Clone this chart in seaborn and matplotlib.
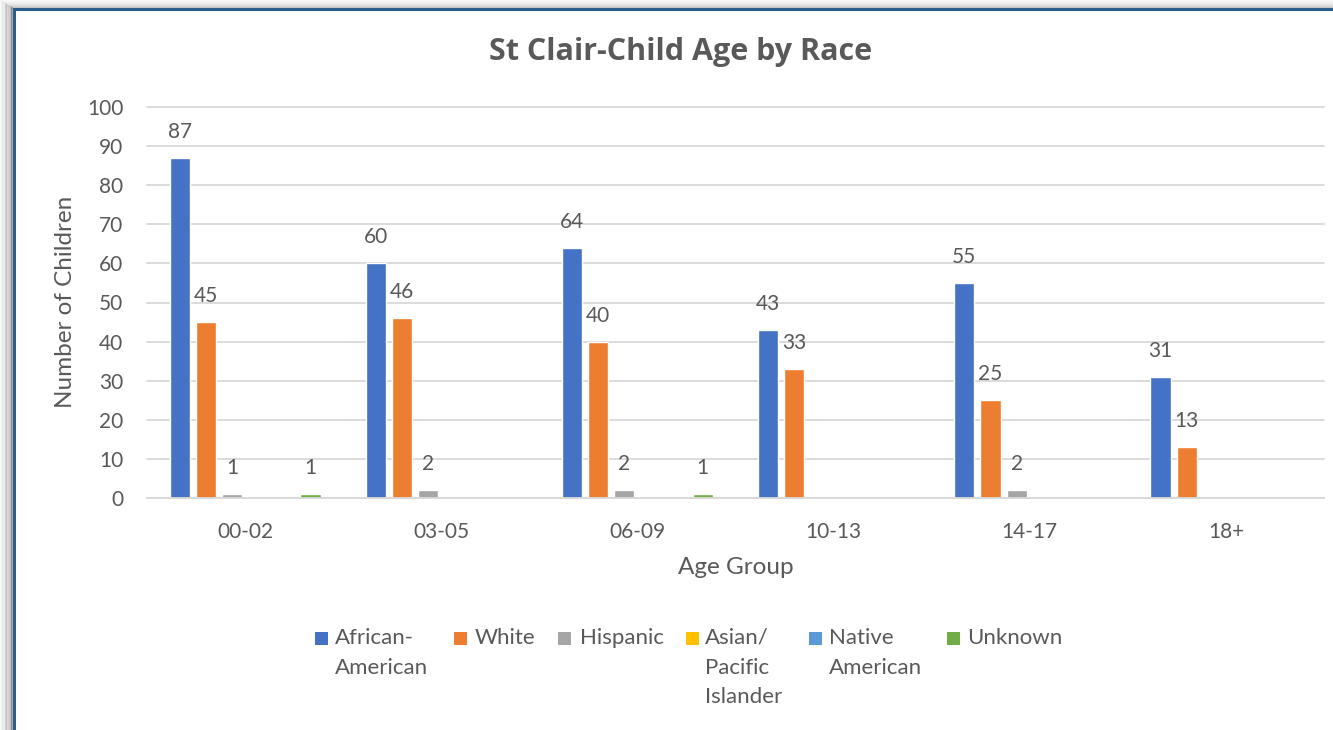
import matplotlib
matplotlib.use("Agg")
import matplotlib.pyplot as plt
import seaborn as sns
import pandas as pd
from matplotlib.patches import Rectangle
from matplotlib.lines import Line2D

age_groups = ["00-02", "03-05", "06-09", "10-13", "14-17", "18+"]
races = ["African-American", "White", "Hispanic", "Asian/Pacific Islander",
         "Native American", "Unknown"]
legend_labels = ["African-\nAmerican", "White", "Hispanic",
                 "Asian/\nPacific\nIslander", "Native\nAmerican", "Unknown"]
african_american = [87, 60, 64, 43, 55, 31]
white = [45, 46, 40, 33, 25, 13]
hispanic = [1, 2, 2, 0, 2, 0]
asian_pacific = [0, 0, 0, 0, 0, 0]
native_american = [0, 0, 0, 0, 0, 0]
unknown = [1, 0, 1, 0, 0, 0]
series = [african_american, white, hispanic, asian_pacific, native_american, unknown]
colors = ["#4472C4", "#ED7D31", "#A5A5A5", "#FFC000", "#5B9BD5", "#70AD47"]

rows = []
for race, vals in zip(races, series):
    for g, v in zip(age_groups, vals):
        rows.append({"Age Group": g, "Race": race, "Count": v})
df = pd.DataFrame(rows)

sns.set_theme(style="white")
plt.rcParams["font.family"] = ["Lato", "DejaVu Sans"]
TXT = "#595959"

W, H = 1333, 730
fig = plt.figure(figsize=(W / 100, H / 100), dpi=100)
fig.patch.set_facecolor("white")

def fx(px):
    return px / W

def fy(py):
    return 1 - py / H

ax = fig.add_axes([fx(147), fy(498), fx(1324) - fx(147), fy(107) - fy(498)])
sns.barplot(data=df, x="Age Group", y="Count", hue="Race", order=age_groups,
            hue_order=races, palette=colors, width=0.8, gap=0.23,
            legend=False, ax=ax, errorbar=None, saturation=1)

ax.set_xlim(-0.5, 5.5)
ax.set_ylim(0, 100)
ax.set_yticks(range(0, 101, 10))
ax.grid(axis="y", color="#D9D9D9", linewidth=1.3)
ax.grid(axis="x", visible=False)
ax.set_axisbelow(True)
for s in ["top", "right", "left"]:
    ax.spines[s].set_visible(False)
ax.spines["bottom"].set_color("#D9D9D9")
ax.spines["bottom"].set_linewidth(1.3)
for gl in ax.get_ygridlines():
    gl.set_clip_on(False)
ax.tick_params(axis="both", length=0, labelsize=15, labelcolor=TXT)
ax.tick_params(axis="y", pad=17)
ax.tick_params(axis="x", pad=17)

for container, vals in zip(ax.containers, series):
    labels = [str(v) if v != 0 else "" for v in vals]
    for bar, lab in zip(container, labels):
        if lab:
            ax.annotate(lab, (bar.get_x() + bar.get_width() / 2, bar.get_height()),
                        xytext=(0, 26), textcoords="offset pixels",
                        ha="center", va="center", fontsize=15, color=TXT)

ax.set_xlabel("Age Group", fontsize=17.5, color=TXT)
ax.xaxis.label.set_va("center")
ax.xaxis.set_label_coords(0.5, (498 - 568) / 391)
ax.set_ylabel("")
fig.text(fx(65), fy(302), "Number of Children", rotation=90, ha="center",
         va="center", fontsize=17.5, color=TXT)

fig.text(fx(681), fy(52), "St Clair-Child Age by Race", ha="center", va="center",
         fontsize=22, fontweight="bold", color=TXT, family=["Open Sans", "DejaVu Sans"])

# legend (manual layout)
sq_x = [315, 454, 558, 686, 809, 947]
tx_x = [335, 475, 580, 705, 829, 967]
for sx, tx, c, lab in zip(sq_x, tx_x, colors, legend_labels):
    fig.add_artist(Rectangle((fx(sx), fy(645)), fx(13), fy(632) - fy(645),
                             transform=fig.transFigure, facecolor=c, edgecolor="none"))
    for i, line in enumerate(lab.split("\n")):
        fig.text(fx(tx), fy(644 + i * 29.5), line, ha="left", va="baseline",
                 fontsize=16, color=TXT)

# frame with shadow (left and top)
shadow = [(0, 0.04), (1.5, 0.07), (3, 0.1), (4.5, 0.14), (6, 0.19), (7.5, 0.25),
          (9, 0.32), (10.5, 0.42), (12, 0.55)]
for x, a in shadow:
    fig.add_artist(Line2D([fx(x), fx(x)], [fy(x * 0.65), 0], transform=fig.transFigure,
                          color=(0.25, 0.25, 0.25), alpha=a, linewidth=1.1))
    fig.add_artist(Line2D([fx(x), 1.01], [fy(x * 0.65), fy(x * 0.65)], transform=fig.transFigure,
                          color=(0.25, 0.25, 0.25), alpha=a * 0.6, linewidth=0.8))
fig.add_artist(Line2D([fx(13.5), fx(13.5), 1.01], [-0.01, fy(9), fy(9)], transform=fig.transFigure,
                      color="#2A5C8C", linewidth=2.2, solid_joinstyle="miter"))

fig.savefig("out.png", dpi=100)
